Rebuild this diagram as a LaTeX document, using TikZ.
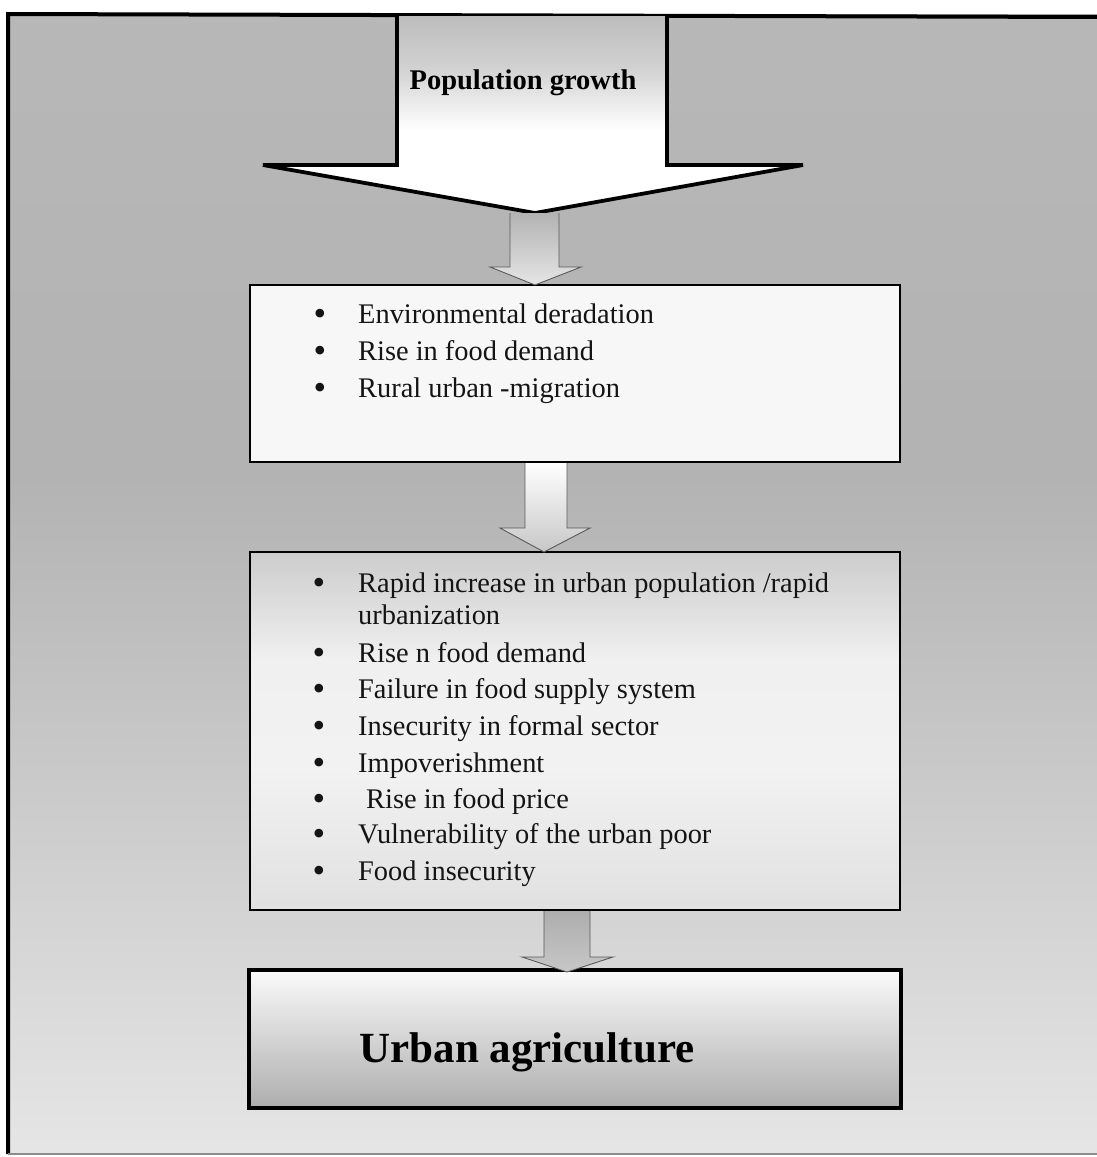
\documentclass[tikz,border=0pt]{standalone}
\usepackage{fontspec}
\setmainfont{Liberation Serif}
\usetikzlibrary{calc}
\pgfdeclareverticalshading{bigarrowshade}{100bp}{color(0bp)=(white); color(25bp)=(white); color(46bp)=(white); color(62bp)=(black!18); color(75bp)=(black!26); color(100bp)=(black!26)}
\pgfdeclareverticalshading{pageshade}{100bp}{color(0bp)=(black!10); color(25bp)=(black!10); color(40bp)=(black!20); color(55bp)=(black!30); color(75bp)=(black!28); color(100bp)=(black!28)}
\pgfdeclareverticalshading{boxtwoshade}{100bp}{color(0bp)=(black!12); color(25bp)=(black!12); color(45bp)=(black!5); color(60bp)=(black!6); color(75bp)=(black!20); color(100bp)=(black!20)}
\tikzset{
  listtext/.style={anchor=base west, inner sep=0pt, font=\fontsize{28.4}{30}\selectfont, text=black!92},
  bullet/.style={anchor=base, inner sep=0pt, font=\fontsize{36}{38}\selectfont, text=black!92},
  box/.style={draw=black, line width=2.2pt, inner sep=0pt},
  smallarrow/.style={draw=black!65, line width=0.9pt, line join=miter},
}
\begin{document}
\begin{tikzpicture}[x=1pt,y=-1pt]
\useasboundingbox (0,0) rectangle (1096,1157);
\fill[white] (0,0) rectangle (1096,1157);
% page background with frame
\shade[shading=pageshade] (8,14) rectangle (1100,1154);
\draw[line width=4pt, black] (1100,17) -- (8,14) -- (8,1154);
\draw[line width=1.2pt, black!45] (8,1154) -- (1100,1154);

% big arrow
\coordinate (tip0) at (535,213);
\path[shading=bigarrowshade] (397,16) -- (397,165) -- (263,165) -- (tip0) -- (803,165) -- (667,165) -- (667,16) -- cycle;
\draw[line width=3.8pt, line join=miter] (397,16) -- (397,165) -- (263,165) -- (tip0) -- (803,165) -- (667,165) -- (667,16);
\node (pop) [anchor=base, inner sep=0pt, font=\bfseries\fontsize{28.5}{30}\selectfont] at (523,89) {Population growth};

% box 1
\node (b1) [box, fill=black!3, minimum width=650pt, minimum height=177pt] at (575,373.5) {};
\node (e1b) [bullet] at (320,325) {•};
\node (e1) [listtext] at (358,323) {Environmental deradation};
\node (e2b) [bullet] at (320,362) {•};
\node (e2) [listtext] at (358,360) {Rise in food demand};
\node (e3b) [bullet] at (320,399) {•};
\node (e3) [listtext] at (358,397) {Rural urban -migration};

% small arrow 1
\coordinate (a1) at (535,285);
\path[smallarrow, top color=black!30, bottom color=black!10] (510,213) -- (510,267) -- (490,267) -- (a1) -- (581,267) -- (559,267) -- (559,213);

% box 2
\node (b2) [box, shading=boxtwoshade, minimum width=650pt, minimum height=358pt] at (575,731) {};
\node (f1b) [bullet] at (319,594) {•};
\node (f1) [listtext] at (358,592) {Rapid increase in urban population /rapid};
\node (f1c) [listtext] at (358,624) {urbanization};
\node (f2b) [bullet] at (319,664) {•};
\node (f2) [listtext] at (358,662) {Rise n food demand};
\node (f3b) [bullet] at (319,700) {•};
\node (f3) [listtext] at (358,698) {Failure in food supply system};
\node (f4b) [bullet] at (319,737) {•};
\node (f4) [listtext] at (358,735) {Insecurity in formal sector};
\node (f5b) [bullet] at (319,774) {•};
\node (f5) [listtext] at (358,772) {Impoverishment};
\node (f6b) [bullet] at (319,810) {•};
\node (f6) [listtext] at (366,808) {Rise in food price};
\node (f7b) [bullet] at (319,845) {•};
\node (f7) [listtext] at (358,843) {Vulnerability of the urban poor};
\node (f8b) [bullet] at (319,882) {•};
\node (f8) [listtext] at (358,880) {Food insecurity};

% small arrow 2
\coordinate (a2) at (544,552);
\path[smallarrow, top color=white, bottom color=black!22] ($(b1.south)+(-50,0)$) -- (525,528) -- (500,528) -- (a2) -- (590,528) -- (567,528) -- ($(b1.south)+(-8,0)$);

% box 3
\node (b3) [box, line width=3.2pt, top color=black!2, bottom color=black!32, minimum width=652pt, minimum height=138pt] at (575,1039) {};
\node (ua) [anchor=base, inner sep=0pt, font=\bfseries\fontsize{43}{46}\selectfont] at (527,1062) {Urban agriculture};

% small arrow 3
\coordinate (a3) at (567,972);
\path[smallarrow, top color=black!32, bottom color=black!22] ($(b2.south)+(-31,0)$) -- (544,957) -- (522,957) -- (a3) -- (613,957) -- (590,957) -- ($(b2.south)+(15,0)$);
\end{tikzpicture}
\end{document}
